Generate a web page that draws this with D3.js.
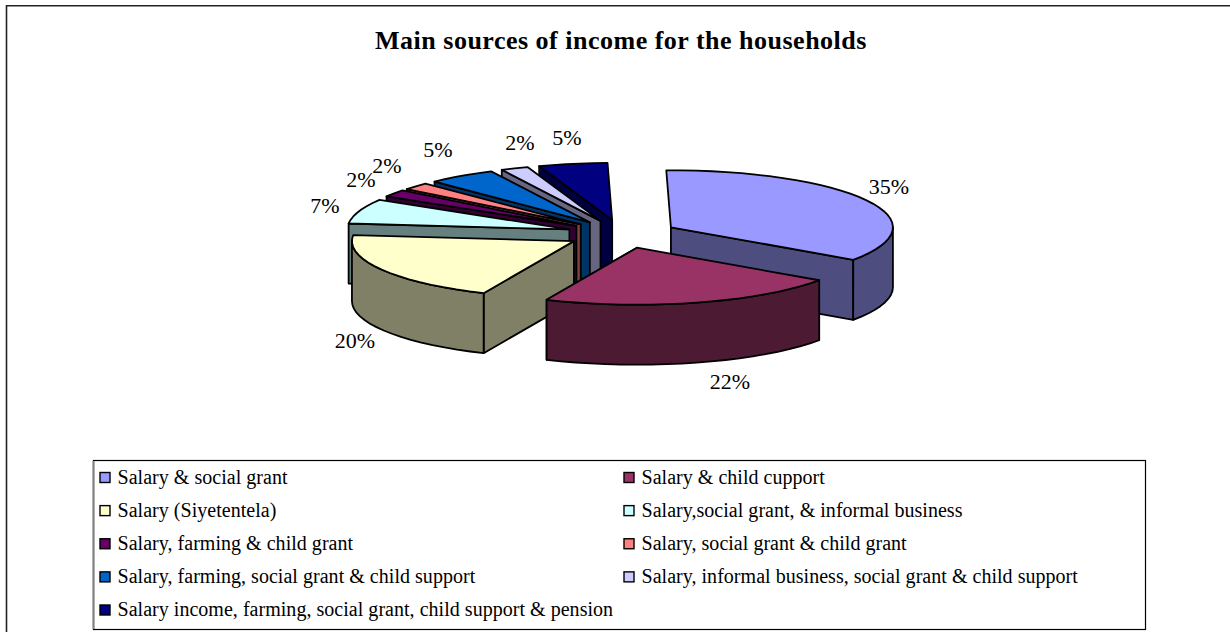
<!DOCTYPE html>
<html>
<head>
<meta charset="utf-8">
<script src="https://cdn.jsdelivr.net/npm/d3@7/dist/d3.min.js"></script>
<style>
html,body{margin:0;padding:0;background:#fff;}
svg{display:block;}
text{font-family:"Liberation Serif","Times New Roman",serif;fill:#000;}
</style>
</head>
<body>
<svg id="chart" width="1230" height="632"></svg>
<script>
// Income source shares, percent of households
const categories = [
  "Salary & social grant",
  "Salary & child cupport",
  "Salary (Siyetentela)",
  "Salary,social grant, & informal business",
  "Salary, farming & child grant",
  "Salary, social grant & child grant",
  "Salary, farming, social grant & child support",
  "Salary, informal business, social grant & child support",
  "Salary income, farming, social grant, child support & pension"
];
const shares = [35, 22, 20, 7, 2, 2, 5, 2, 5];
const topColors = ["#9999ff","#993366","#ffffcc","#ccffff","#660066","#ff8080","#0066cc","#ccccff","#000080"];
const wallColors = ["#4d4d80","#4d1a33","#808066","#668080","#330033","#804040","#003366","#666680","#000040"];
const labelSpots = [[889,189],[730,384],[355,343],[325,208],[361,182],[387,168],[438,152],[520,145],[567,140]];

const svg = d3.select("#chart");

// Frame around the whole chart, running off the page to the right and below
svg.append("path").attr("d","M6.5,632V5.75H1230")
  .attr("fill","none").attr("stroke","#222").attr("stroke-width",1.6);

svg.append("text").attr("x",621).attr("y",49).attr("text-anchor","middle")
  .attr("font-size",26).attr("font-weight","bold").attr("letter-spacing",0.5)
  .text("Main sources of income for the households");

// Tilted pie: an ellipse on the page, with slices pulled out along their bisectors
const cx = 622, cy = 234, rx = 222, ry = 57, depth = 60, explode = 0.25;
const turn = -1.2 * Math.PI / 180;
const pie = d3.pie().sort(null).value(d => d)
  .startAngle(turn).endAngle(2*Math.PI + turn)(shares);
const line = d3.line();
const rim = (a, o) => [o[0] + rx*Math.sin(a), o[1] - ry*Math.cos(a)];
const drop = p => [p[0], p[1] + depth];
const arcAngles = (a0, a1) => {
  const n = Math.max(2, Math.ceil(Math.abs(a1-a0)/0.07));
  return d3.range(n+1).map(i => a0 + (a1-a0)*i/n);
};

const slices = pie.map((d,i) => {
  const mid = (d.startAngle+d.endAngle)/2;
  const o = [cx + explode*rx*Math.sin(mid), cy - explode*ry*Math.cos(mid)];
  return {i, d, o, mid};
});

// Back slices first, the two front slices last
const drawOrder = [8,7,6,5,4,3,0,2,1];
const pieG = svg.append("g").attr("stroke","#000").attr("stroke-width",1.8).attr("stroke-linejoin","round");
drawOrder.forEach(k => {
  const {i,d,o,mid} = slices[k];
  const g = pieG.append("g");
  // Cut face turned toward the viewer
  const p = rim(mid > Math.PI ? d.startAngle : d.endAngle, o);
  g.append("path").attr("fill",wallColors[i])
    .attr("d", line([o,p,drop(p),drop(o)]) + "Z");
  // Outer wall, only the part facing the viewer
  const a0 = Math.max(d.startAngle, Math.PI/2), a1 = Math.min(d.endAngle, 3*Math.PI/2);
  if (a1 > a0) {
    const top = arcAngles(a0,a1).map(a => rim(a,o));
    g.append("path").attr("fill",wallColors[i])
      .attr("d", line(top.concat(top.map(drop).reverse())) + "Z");
  }
  // Top face
  const arcPts = arcAngles(d.startAngle,d.endAngle).map(a => rim(a,o));
  g.append("path").attr("fill",topColors[i])
    .attr("d", line([o].concat(arcPts)) + "Z");
});

// Percentage labels
svg.append("g").selectAll("text").data(shares).join("text")
  .attr("x",(d,i) => labelSpots[i][0]).attr("y",(d,i) => labelSpots[i][1])
  .attr("text-anchor","middle").attr("dominant-baseline","middle")
  .attr("font-size",22).text(d => d + "%");

// Legend box, two columns filled row by row
svg.append("rect").attr("x",93.5).attr("y",460.5).attr("width",1052).attr("height",169)
  .attr("fill","#fff").attr("stroke","#000").attr("stroke-width",1.2);
svg.append("line").attr("x1",93.5).attr("x2",93.5).attr("y1",461).attr("y2",629)
  .attr("stroke","#808080").attr("stroke-width",2);
const colX = d3.scalePoint().domain([0,1]).range([100,624]);
const rowY = d3.scalePoint().domain(d3.range(5)).range([477.5,610]);
const legend = svg.append("g").selectAll("g").data(categories).join("g")
  .attr("transform",(d,i) => `translate(${colX(i%2)},${rowY(Math.floor(i/2))})`);
legend.append("rect").attr("x",0).attr("y",-5).attr("width",10).attr("height",10)
  .attr("fill",(d,i) => topColors[i]).attr("stroke","#000").attr("stroke-width",1.4);
legend.append("text").attr("x",17.5).attr("y",6).attr("font-size",20).attr("letter-spacing",0.03).text(d => d);
</script>
</body>
</html>
